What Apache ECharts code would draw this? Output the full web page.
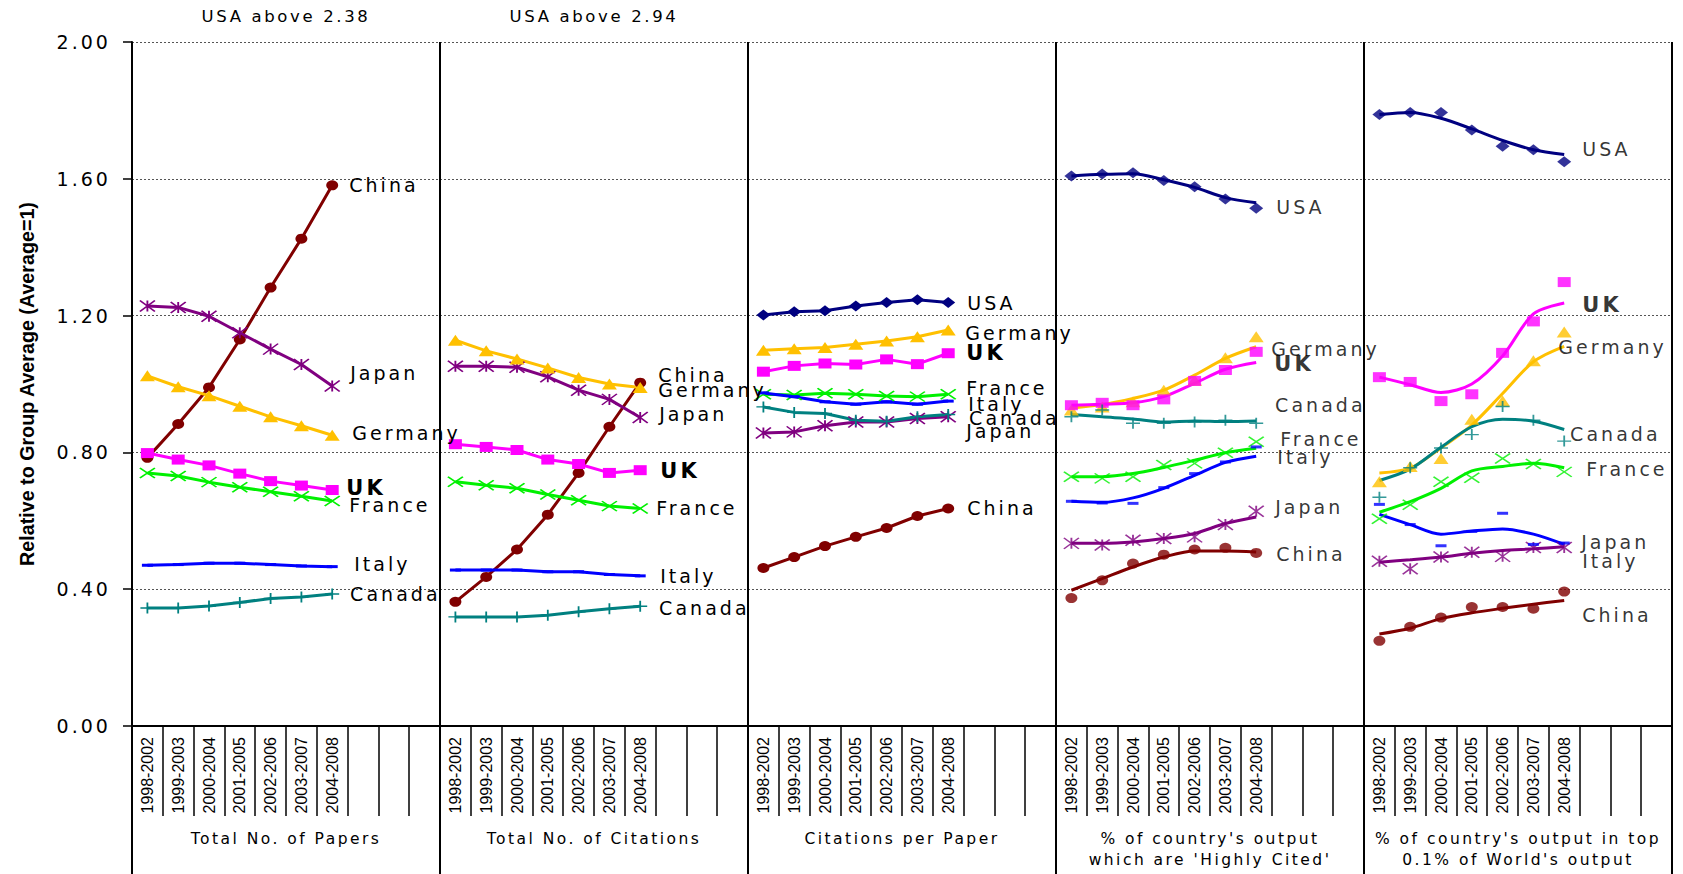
<!DOCTYPE html>
<html>
<head>
<meta charset="utf-8">
<script src="https://cdn.jsdelivr.net/npm/echarts@6.0.0/dist/echarts.min.js"></script>
<style>
html, body { margin: 0; padding: 0; background: #fff; }
#chart { width: 1683px; height: 874px; }
#chart svg text[style*="DejaVu"] { letter-spacing: 0.16em; }
</style>
</head>
<body>
<div id="chart"></div>
<script>
// ---------------- DATA ----------------
const countries = ['USA', 'China', 'Japan', 'Germany', 'UK', 'France', 'Italy', 'Canada'];
const periods = ['1998-2002', '1999-2003', '2000-2004', '2001-2005', '2002-2006', '2003-2007', '2004-2008'];
const panelNames = [
  'Total No. of Papers',
  'Total No. of Citations',
  'Citations per Paper',
  "% of country's output\nwhich are 'Highly Cited'",
  "% of country's output in top\n0.1% of World's output"
];
const topNotes = ['USA above 2.38', 'USA above 2.94', '', '', ''];

// rows follow the order of `countries`
const totalPapers = [
  null,                                              // USA (above 2.38)
  [0.784, 0.883, 0.990, 1.130, 1.282, 1.425, 1.581], // China
  [1.228, 1.224, 1.198, 1.150, 1.102, 1.057, 0.994], // Japan
  [1.024, 0.992, 0.966, 0.935, 0.904, 0.878, 0.850], // Germany
  [0.798, 0.779, 0.762, 0.738, 0.716, 0.703, 0.690], // UK
  [0.740, 0.731, 0.713, 0.698, 0.685, 0.672, 0.658], // France
  [0.470, 0.472, 0.476, 0.476, 0.472, 0.468, 0.466], // Italy
  [0.345, 0.345, 0.351, 0.361, 0.373, 0.377, 0.386]  // Canada
];
const totalCitations = [
  null,                                              // USA (above 2.94)
  [0.363, 0.436, 0.516, 0.618, 0.740, 0.875, 1.004],
  [1.052, 1.052, 1.049, 1.021, 0.982, 0.955, 0.902],
  [1.128, 1.097, 1.073, 1.047, 1.019, 1.000, 0.990],
  [0.824, 0.816, 0.807, 0.779, 0.766, 0.740, 0.748],
  [0.714, 0.704, 0.695, 0.677, 0.660, 0.643, 0.636],
  [0.456, 0.456, 0.456, 0.451, 0.451, 0.443, 0.439],
  [0.319, 0.319, 0.319, 0.324, 0.334, 0.343, 0.350]
];
const citesPerPaper = [
  [1.202, 1.211, 1.214, 1.228, 1.238, 1.246, 1.238],
  [0.462, 0.494, 0.526, 0.553, 0.579, 0.614, 0.636],
  [0.857, 0.860, 0.878, 0.889, 0.889, 0.899, 0.904],
  [1.099, 1.103, 1.107, 1.116, 1.126, 1.138, 1.158],
  [1.036, 1.053, 1.060, 1.057, 1.072, 1.058, 1.090],
  [0.970, 0.968, 0.973, 0.970, 0.965, 0.963, 0.970],
  [0.974, 0.963, 0.948, 0.941, 0.948, 0.941, 0.950],
  [0.933, 0.917, 0.914, 0.894, 0.891, 0.904, 0.911]
];
const highlyCited = [
  [1.608, 1.614, 1.618, 1.595, 1.577, 1.541, 1.514],
  [0.374, 0.426, 0.475, 0.501, 0.516, 0.521, 0.506],
  [0.534, 0.529, 0.543, 0.548, 0.553, 0.589, 0.628],
  [0.924, 0.933, 0.948, 0.982, 1.011, 1.077, 1.138],
  [0.938, 0.945, 0.938, 0.955, 1.009, 1.041, 1.094],
  [0.729, 0.724, 0.729, 0.763, 0.768, 0.799, 0.831],
  [0.657, 0.652, 0.651, 0.697, 0.738, 0.772, 0.816],
  [0.904, 0.924, 0.885, 0.885, 0.889, 0.894, 0.885]
];
const highlyCitedTrend = [
  [1.608, 1.613, 1.615, 1.597, 1.575, 1.545, 1.530],
  [0.397, 0.431, 0.465, 0.494, 0.512, 0.512, 0.509],
  [0.534, 0.534, 0.538, 0.548, 0.563, 0.592, 0.611],
  [0.930, 0.940, 0.958, 0.982, 1.026, 1.075, 1.109],
  [0.938, 0.941, 0.945, 0.963, 1.002, 1.043, 1.063],
  [0.729, 0.729, 0.738, 0.756, 0.777, 0.799, 0.812],
  [0.657, 0.654, 0.667, 0.695, 0.733, 0.771, 0.789],
  [0.911, 0.904, 0.898, 0.889, 0.892, 0.890, 0.892]
];
const top01 = [
  [1.788, 1.794, 1.794, 1.743, 1.695, 1.685, 1.650],
  [0.249, 0.290, 0.317, 0.348, 0.348, 0.343, 0.393],
  [0.482, 0.460, 0.494, 0.508, 0.496, 0.522, 0.522],
  [0.714, 0.759, 0.782, 0.897, 0.950, 1.068, 1.152],
  [1.020, 1.006, 0.950, 0.970, 1.091, 1.183, 1.298],
  [0.606, 0.647, 0.714, 0.726, 0.782, 0.766, 0.743],
  [0.648, 0.589, 0.527, 0.569, 0.622, 0.531, 0.535],
  [0.669, 0.755, 0.813, 0.852, 0.934, 0.894, 0.833]
];
const top01Trend = [
  [1.788, 1.794, 1.777, 1.746, 1.712, 1.685, 1.671],
  [0.269, 0.286, 0.314, 0.331, 0.344, 0.356, 0.367],
  [0.479, 0.486, 0.494, 0.505, 0.513, 0.518, 0.524],
  [0.740, 0.754, 0.813, 0.880, 0.972, 1.065, 1.110],
  [1.020, 0.998, 0.975, 1.000, 1.082, 1.205, 1.237],
  [0.625, 0.656, 0.695, 0.746, 0.759, 0.768, 0.755],
  [0.619, 0.589, 0.561, 0.570, 0.576, 0.561, 0.531],
  [0.718, 0.751, 0.815, 0.875, 0.897, 0.891, 0.867]
];

// ---------------- STYLE / LAYOUT ----------------
const SLOTS = 10; // category slots per panel (7 periods + 3 blank)
const NP = panelNames.length;
const linkedPanels = [totalPapers, totalCitations, citesPerPaper];
const splitPanels = [[highlyCited, highlyCitedTrend], [top01, top01Trend]];

const look = {
  USA:     { color: '#000080', symbol: 'diamond', size: [14, 11], stroke: 0 },
  China:   { color: '#800000', symbol: 'circle', size: [12, 10], stroke: 0 },
  Japan:   { color: '#800080', symbol: 'path://M0,0L10,10M10,0L0,10M5,0L5,10', size: [15, 11], stroke: 1.6 },
  Germany: { color: '#FFC000', symbol: 'triangle', size: [15, 11], stroke: 0 },
  UK:      { color: '#FF00FF', symbol: 'rect', size: [13, 10], stroke: 0 },
  France:  { color: '#00F000', symbol: 'path://M0,0L10,10M10,0L0,10', size: [15, 10], stroke: 1.6 },
  Italy:   { color: '#0000FF', symbol: 'rect', size: [11, 3], stroke: 0 },
  Canada:  { color: '#008080', symbol: 'path://M5,0L5,10M0,5L10,5', size: [14, 11], stroke: 1.6 }
};
// label offset from the last point of each panel: [dx to text start, dy]
const labelPos = {
  USA:     [null, null, [19, 0], [20, -1], [18, -13]],
  China:   [[17, 0], [18, -8], [19, 0], [20, 1], [18, 23]],
  Japan:   [[17, -13], [18, -4], [17, 14], [18, -4], [16, -5]],
  Germany: [[20, -2], [18, 3], [17, 3], [15, 12], [-6, 15]],
  UK:      [[14, -2], [20, 1], [18, 0], [18, 12], [18, 23]],
  France:  [[16, 4], [15, 0], [17, -6], [23, -3], [21, -3]],
  Italy:   [[22, -3], [20, 0], [20, 3], [21, 10], [18, 18]],
  Canada:  [[17, 0], [18, 2], [20, 4], [18, -18], [5, -7]]
};

const TXT = 'DejaVu Sans';
const xCats = [];
for (let p = 0; p < NP; p++) for (let s = 0; s < SLOTS; s++) xCats.push(p + '|' + s + '|' + (periods[s] || ''));

function emptyRow() { return new Array(NP * SLOTS).fill('-'); }
function labelFor(name, p) {
  const o = labelPos[name][p];
  const bold = name === 'UK';
  return {
    show: true, position: 'right', distance: 0,
    offset: [o[0] - look[name].size[0] / 2, o[1]],
    formatter: name, color: '#000', fontFamily: TXT,
    fontSize: bold ? 21 : 19, fontWeight: bold ? 'bold' : 'normal'
  };
}

const series = [];
countries.forEach((name, c) => {
  const st = look[name];
  const itemStyle = { color: st.color, borderColor: st.color, borderWidth: st.stroke };
  const joined = emptyRow(), trend = emptyRow(), marks = emptyRow();
  linkedPanels.forEach((panel, p) => {
    const row = panel[c];
    if (!row) return;
    row.forEach((v, s) => {
      joined[p * SLOTS + s] = s === row.length - 1 ? { value: v, label: labelFor(name, p) } : v;
    });
  });
  splitPanels.forEach(([mk, tr], k) => {
    const p = linkedPanels.length + k;
    tr[c].forEach((v, s) => { trend[p * SLOTS + s] = v; });
    mk[c].forEach((v, s) => {
      marks[p * SLOTS + s] = s === mk[c].length - 1 ? { value: v, label: labelFor(name, p) } : v;
    });
  });
  series.push({
    type: 'line', name, data: joined, symbol: st.symbol, symbolSize: st.size, showSymbol: true,
    connectNulls: false, lineStyle: { color: st.color, width: 3 }, itemStyle, label: { show: false },
    emphasis: { disabled: true }, z: 2
  });
  series.push({
    type: 'line', name: name + ' trend', data: trend, symbol: 'none', smooth: 0.3, connectNulls: false,
    lineStyle: { color: st.color, width: 3 }, emphasis: { disabled: true }, z: 2
  });
  series.push({
    type: 'scatter', name: name + ' points', data: marks, symbol: st.symbol, symbolSize: st.size,
    itemStyle, emphasis: { disabled: true }, z: 3
  });
});

const chart = echarts.init(document.getElementById('chart'), null, { renderer: 'svg', width: 1683, height: 874 });
chart.setOption({
  animation: false,
  backgroundColor: '#fff',
  grid: { left: 132, right: 11, top: 42, bottom: 148, containLabel: false },
  xAxis: [
    {
      type: 'category', data: xCats, position: 'bottom', boundaryGap: true,
      axisLine: { show: true, onZero: false, lineStyle: { color: '#000', width: 2 } },
      axisTick: { show: true, interval: 0, length: 90, lineStyle: { color: '#000', width: 1.5 } },
      axisLabel: {
        interval: 0, rotate: 90, margin: 11, color: '#000', fontFamily: 'Liberation Sans', fontSize: 16,
        formatter: v => v.split('|')[2]
      },
      splitLine: { show: false }
    },
    {
      type: 'category', data: panelNames, position: 'bottom', boundaryGap: true,
      axisLine: { show: false },
      axisTick: { show: true, interval: 0, length: 160, lineStyle: { color: '#000', width: 2 } },
      axisLabel: { interval: 0, margin: 102, color: '#000', fontFamily: TXT, fontSize: 15.5, lineHeight: 21 },
      splitLine: { show: true, interval: 0, lineStyle: { color: '#000', width: 2 } }
    },
    {
      type: 'category', data: topNotes.map((t, i) => i + '|' + t), position: 'top', boundaryGap: true,
      axisLine: { show: false }, axisTick: { show: false },
      axisLabel: { interval: 0, margin: 17, color: '#000', fontFamily: TXT, fontSize: 16.5, formatter: v => v.split('|')[1] },
      splitLine: { show: false }
    }
  ],
  yAxis: {
    type: 'value', min: 0, max: 2, interval: 0.4,
    name: 'Relative to Group Average (Average=1)', nameLocation: 'middle', nameGap: 95, nameRotate: 90,
    nameTextStyle: { fontFamily: 'Liberation Sans', fontWeight: 'bold', fontSize: 19.7, color: '#000' },
    axisLine: { show: true, lineStyle: { color: '#000', width: 2 } },
    axisTick: { show: true, length: 9, lineStyle: { color: '#000', width: 1.5 } },
    axisLabel: { formatter: v => v.toFixed(2), fontFamily: TXT, fontSize: 19, color: '#000', margin: 21 },
    splitLine: { show: true, lineStyle: { color: '#555', width: 1, type: [2, 2] } }
  },
  series
});
</script>
</body>
</html>
